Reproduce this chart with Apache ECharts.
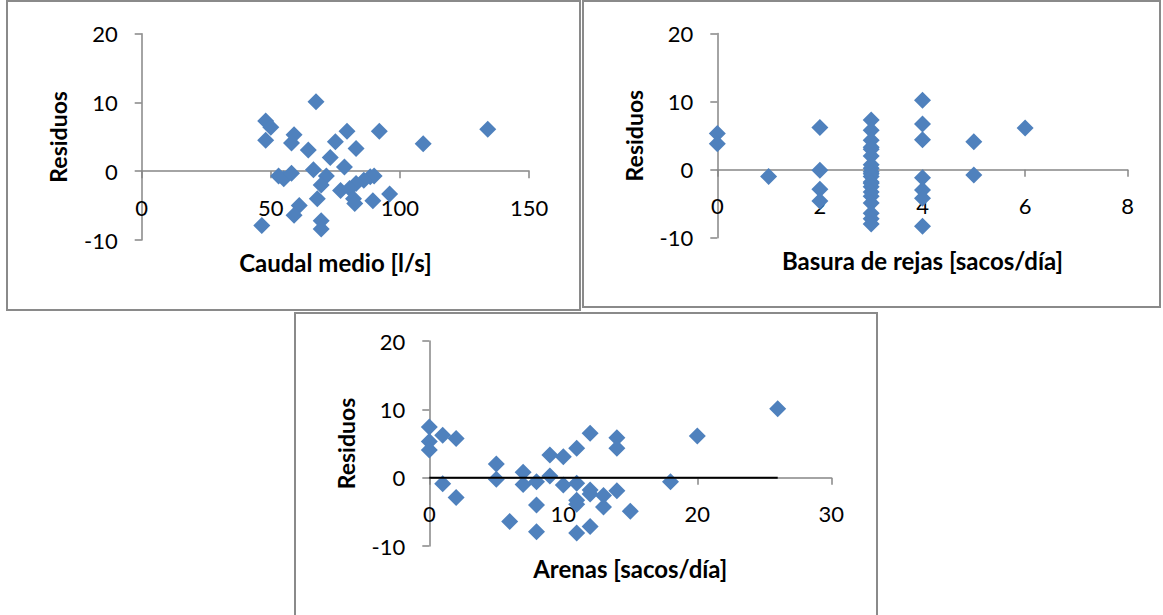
<!DOCTYPE html>
<html>
<head>
<meta charset="utf-8">
<script src="https://cdn.jsdelivr.net/npm/echarts@6/dist/echarts.min.js"></script>
<style>
html,body{margin:0;padding:0;background:#fff;}
#c{width:1163px;height:615px;}
</style>
</head>
<body>
<div id="c"></div>
<script>
// Panel 1: Caudal medio [l/s] vs residuos
var caudalX = [67.5,48,50,48,59,58,64.5,73,75,53,55,58,66.5,71.5,69.5,68,61,59,46.5,69.5,69.5,79.5,92,83,78.5,109,134,88.5,90,86,83,77,80.5,82,89.5,96,82.5];
var caudalRes = [10.1,7.3,6.4,4.5,5.3,4.1,3.1,2.0,4.3,-0.7,-1.1,-0.3,0.2,-0.7,-2.0,-4.0,-5.0,-6.4,-7.9,-7.2,-8.4,5.8,5.8,3.3,0.6,4.0,6.1,-0.8,-0.7,-1.3,-1.8,-2.8,-2.5,-4.0,-4.3,-3.3,-4.7];
// Panel 2: Basura de rejas [sacos/día] vs residuos
var basuraX = [0,0,1,2,2,2,2,3,3,3,3,3,3,3,3,3,3,3,3,3,3,3,3,3,3,3,3,4,4,4,4,4,4,4,5,5,6];
var basuraRes = [5.3,3.8,-1.0,6.2,-0.1,-2.9,-4.6,7.3,5.8,4.3,3.3,3.0,2.0,0.7,0.2,-0.3,-0.6,-1.0,-1.8,-2.0,-2.5,-3.3,-3.9,-4.9,-6.4,-7.2,-8.0,10.2,6.7,4.4,-1.2,-3.0,-4.2,-8.3,4.1,-0.8,6.1];
// Panel 3: Arenas [sacos/día] vs residuos
var arenasX = [0,0,0,1,2,1,2,5,5,7,7,8,9,9,10,10,11,11,11,11,12,12,13,13,14,14,14,12,15,6,8,8,11,12,18,20,26];
var arenasRes = [7.4,5.3,4.05,6.2,5.75,-0.9,-2.9,2.0,-0.24,0.8,-1.0,-0.6,3.3,0.25,3.07,-1.07,4.3,-0.8,-3.3,-3.9,-1.8,-2.4,-2.6,-4.3,-1.9,5.85,4.3,6.5,-4.9,-6.4,-4.0,-7.9,-8.1,-7.15,-0.6,6.1,10.1];
var trendX = [0, 26];
var trendY = [0, 0];
// Axis texts and ranges
var yName = 'Residuos';
var xNames = ['Caudal medio [l/s]', 'Basura de rejas [sacos/día]', 'Arenas [sacos/día]'];
var xMax = [150, 8, 30];
var xInt = [50, 2, 10];
var yMin = -10, yMax = 20, yInt = 10;

function zip(a, b){ return a.map(function(v,i){ return [v, b[i]]; }); }

var FONT = 'Lato, "Open Sans", sans-serif';
var AX = '#868686';
var MARK = '#4F81BD';

var grids = [
  {left: 141.7, top: 33.7, width: 387.4, height: 206.3},
  {left: 717.3, top: 33.5, width: 410.4, height: 204.2},
  {left: 429.3, top: 341, width: 402, height: 205}
];

var xAxes = [], yAxes = [];
for (var i = 0; i < 3; i++) {
  // x axis crosses the y axis at value 0 (placed with an offset above the grid bottom)
  var zeroOffset = -grids[i].height * (0 - yMin) / (yMax - yMin);
  xAxes.push({
    type: 'value', gridIndex: i, min: 0, max: xMax[i], interval: xInt[i],
    position: 'bottom', offset: zeroOffset,
    name: xNames[i], nameLocation: 'middle', nameGap: 79,
    nameTextStyle: {fontFamily: FONT, fontWeight: 'bold', fontSize: 24, color: '#000'},
    axisLine: {onZero: false, lineStyle: {color: AX, width: 1.5}},
    axisTick: {show: true, length: 7, lineStyle: {color: AX, width: 1.5}},
    axisLabel: {margin: 25, fontFamily: FONT, fontSize: 22, color: '#000'},
    splitLine: {show: false}
  });
  yAxes.push({
    type: 'value', gridIndex: i, min: yMin, max: yMax, interval: yInt,
    position: 'left',
    name: yName, nameLocation: 'middle', nameGap: 72, nameRotate: 90,
    nameTextStyle: {fontFamily: FONT, fontWeight: 'bold', fontSize: 23, color: '#000'},
    axisLine: {show: true, onZero: false, lineStyle: {color: AX, width: 1.5}},
    axisTick: {show: true, length: 7, lineStyle: {color: AX, width: 1.5}},
    axisLabel: {margin: 24, fontFamily: FONT, fontSize: 22, color: '#000'},
    splitLine: {show: false}
  });
}

function scatter(idx, xs, ys) {
  return {
    type: 'scatter', xAxisIndex: idx, yAxisIndex: idx,
    symbol: 'diamond', symbolSize: 17,
    itemStyle: {color: MARK, opacity: 1},
    data: zip(xs, ys), z: 2, silent: true
  };
}

var borders = [
  [7, 1, 573, 309],
  [583, 1, 577, 306],
  [295, 313, 582, 310]
].map(function(b){
  return {type: 'rect', shape: {x: b[0], y: b[1], width: b[2], height: b[3]},
    style: {fill: 'none', stroke: '#8a8a8a', lineWidth: 2}, z: -10, silent: true};
});

var chart = echarts.init(document.getElementById('c'), null, {renderer: 'svg'});
chart.setOption({
  backgroundColor: '#fff',
  animation: false,
  grid: grids,
  xAxis: xAxes,
  yAxis: yAxes,
  graphic: borders,
  series: [
    scatter(0, caudalX, caudalRes),
    scatter(1, basuraX, basuraRes),
    scatter(2, arenasX, arenasRes),
    {
      type: 'line', xAxisIndex: 2, yAxisIndex: 2,
      data: zip(trendX, trendY), showSymbol: false, symbol: 'none',
      lineStyle: {color: '#000', width: 2}, z: 5, silent: true
    }
  ]
});
</script>
</body>
</html>
